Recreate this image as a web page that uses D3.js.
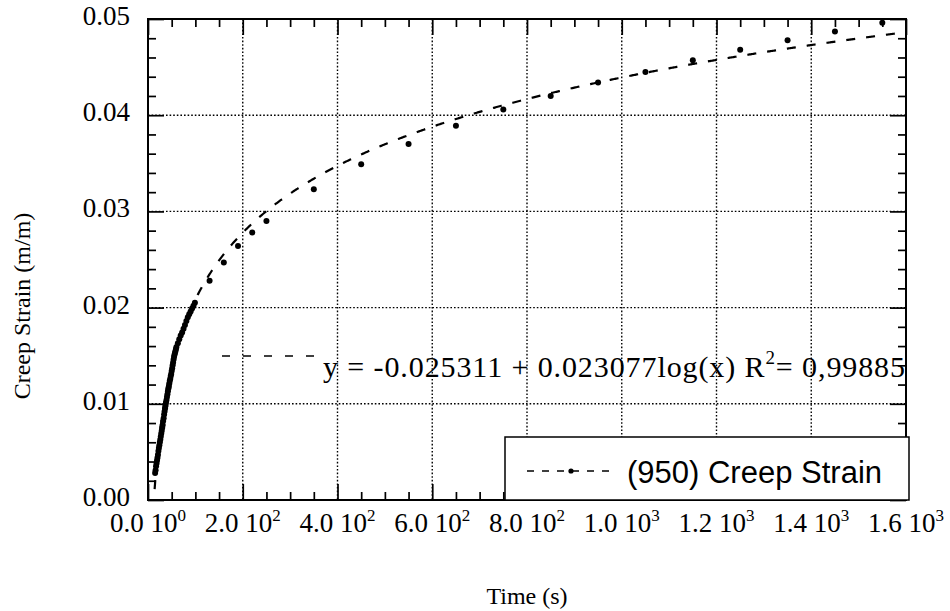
<!DOCTYPE html>
<html>
<head>
<meta charset="utf-8">
<script src="https://cdn.jsdelivr.net/npm/d3@7"></script>
<style>
  body { margin: 0; background: #fff; }
  svg { display: block; }
</style>
</head>
<body>
<svg id="chart" width="950" height="611"></svg>
<script>
// Creep test (950): early record sampled densely, later record every 100 s
const earlyTime = [15,16,17,18,19,20,21,22,23,24,25,26,27,28,29,30,31,32,33,34,35,36,37,38,39,40,
  41,42,43,44,45,46,47,48,49,50,51,52,53,54,55,56,57,58,59,60,
  63,66,69,72,75,78,81,84,87,90,93,96,99];
const earlyStrain = [0.0028,0.0031,0.0035,0.0038,0.0041,0.0044,0.0047,0.0051,0.0054,0.0057,0.0060,
  0.0063,0.0066,0.0069,0.0072,0.0075,0.0078,0.0082,0.0085,0.0089,0.0092,0.0095,0.0098,0.0101,0.0104,
  0.0107,0.0110,0.0113,0.0116,0.0118,0.0121,0.0124,0.0126,0.0129,0.0131,0.0134,0.0137,0.0140,0.0143,
  0.0146,0.0149,0.0151,0.0153,0.0155,0.0157,0.0159,
  0.0163,0.0167,0.0171,0.0174,0.0178,0.0182,0.0186,0.0190,0.0193,0.0196,0.0199,0.0202,0.0205];
const lateTime = [130,160,190,220,250,350,450,550,650,750,850,950,1050,1150,1250,1350,1450,1550];
const lateStrain = [0.0228,0.0247,0.0264,0.0278,0.0290,0.0323,0.0349,0.0370,0.0389,0.0406,
  0.0420,0.0434,0.0445,0.0457,0.0468,0.0478,0.0487,0.0496];

// Logarithmic fit y = a + b log10(x)
const fitA = -0.025311;
const fitB = 0.023077;
const fitR2 = "0,99885";
const seriesName = "(950) Creep Strain";

// Axis ticks and labels
const xMajorTicks = [0,200,400,600,800,1000,1200,1400,1600];
const xTickMantissa = ["0.0","2.0","4.0","6.0","8.0","1.0","1.2","1.4","1.6"];
const xTickExponent = ["0","2","2","2","2","3","3","3","3"];
const yMajorTicks = [0,0.01,0.02,0.03,0.04,0.05];
const yTickLabels = ["0.00","0.01","0.02","0.03","0.04","0.05"];
const xTitle = "Time (s)";
const yTitle = "Creep Strain (m/m)";

const serif = "'Liberation Serif','Times New Roman',serif";
const sans = "'Liberation Sans',Arial,sans-serif";

const svg = d3.select("#chart");
const L = 148, R = 906, T = 19, B = 500;
const x = d3.scaleLinear().domain([0, 1600]).range([L, R]);
const y = d3.scaleLinear().domain([0, 0.05]).range([B, T]);

const xMinor = d3.range(0, 1601, 50).filter(v => !xMajorTicks.includes(v));
const yMinor = d3.range(0, 26).map(i => i * 0.002).filter(v => !yMajorTicks.some(m => Math.abs(m - v) < 1e-9));

// dotted grid
const grid = svg.append("g").attr("stroke", "#000").attr("stroke-width", 1.4)
  .attr("stroke-dasharray", "1.6,2");
grid.selectAll("line.gx").data(xMajorTicks.slice(1, -1)).join("line")
  .attr("x1", d => x(d)).attr("x2", d => x(d)).attr("y1", T).attr("y2", B);
grid.selectAll("line.gy").data(yMajorTicks.slice(1, -1)).join("line")
  .attr("x1", L).attr("x2", R).attr("y1", d => y(d)).attr("y2", d => y(d));

// inward ticks on all four sides
function ticks(axis, values, size, transform) {
  const g = svg.append("g").attr("transform", transform)
    .call(axis.tickValues(values).tickSizeInner(-size).tickSizeOuter(0).tickFormat(""));
  g.select(".domain").remove();
  g.selectAll("line").attr("stroke", "#000").attr("stroke-width", 1.7);
}
ticks(d3.axisBottom(x), xMajorTicks, 16, `translate(0,${B})`);
ticks(d3.axisBottom(x), xMinor, 8, `translate(0,${B})`);
ticks(d3.axisTop(x), xMajorTicks, 16, `translate(0,${T})`);
ticks(d3.axisTop(x), xMinor, 8, `translate(0,${T})`);
ticks(d3.axisLeft(y), yMajorTicks, 16, `translate(${L},0)`);
ticks(d3.axisLeft(y), yMinor, 8, `translate(${L},0)`);
ticks(d3.axisRight(y), yMajorTicks, 16, `translate(${R},0)`);
ticks(d3.axisRight(y), yMinor, 8, `translate(${R},0)`);

svg.append("rect").attr("x", L).attr("y", T).attr("width", R - L).attr("height", B - T)
  .attr("fill", "none").attr("stroke", "#000").attr("stroke-width", 2);

// fitted curve
const fitTimes = d3.range(14, 1600.5, 2);
const line = d3.line().x(d => x(d)).y(d => y(fitA + fitB * Math.log10(d)));
svg.append("path").datum(fitTimes).attr("d", line)
  .attr("fill", "none").attr("stroke", "#000").attr("stroke-width", 2.2)
  .attr("stroke-dasharray", "9,11");

// measured points
const points = earlyTime.map((t, i) => [t, earlyStrain[i]])
  .concat(lateTime.map((t, i) => [t, lateStrain[i]]));
svg.append("g").selectAll("circle").data(points).join("circle")
  .attr("cx", d => x(d[0])).attr("cy", d => y(d[1])).attr("r", 3).attr("fill", "#000");

// x tick labels: mantissa 10^exponent
const xl = svg.append("g").attr("font-family", serif).attr("font-size", 27).attr("fill", "#000");
xMajorTicks.forEach((v, i) => {
  const t = xl.append("text").attr("x", x(v)).attr("y", 532).attr("text-anchor", "middle");
  t.append("tspan").text(xTickMantissa[i] + " 10");
  t.append("tspan").attr("dy", -11).attr("font-size", 17).text(xTickExponent[i]);
});

// y tick labels
svg.append("g").attr("font-family", serif).attr("font-size", 27).attr("fill", "#000")
  .selectAll("text").data(yMajorTicks).join("text")
  .attr("x", 130).attr("y", d => y(d) + 6).attr("text-anchor", "end")
  .text((d, i) => yTickLabels[i]);

// axis titles
svg.append("text").attr("x", 527).attr("y", 604).attr("text-anchor", "middle")
  .attr("font-family", serif).attr("font-size", 24).text(xTitle);
svg.append("text").attr("transform", "translate(22,306) rotate(-90)")
  .attr("text-anchor", "middle").attr("dominant-baseline", "central")
  .attr("font-family", serif).attr("font-size", 24).text(yTitle);

// fit equation with its line sample
svg.append("line").attr("x1", 222).attr("x2", 316).attr("y1", 356).attr("y2", 356)
  .attr("stroke", "#000").attr("stroke-width", 1.4).attr("stroke-dasharray", "8,13");
const eq = svg.append("text").attr("x", 323).attr("y", 377)
  .attr("font-family", serif).attr("font-size", 30).attr("fill", "#000")
  .attr("textLength", 582).attr("lengthAdjust", "spacing");
eq.append("tspan").text(`y = ${fitA.toFixed(6)} + ${fitB.toFixed(6)}log(x) R`);
eq.append("tspan").attr("dy", -13).attr("font-size", 19).text("2");
eq.append("tspan").attr("dy", 13).text(`= ${fitR2}`);

// legend
svg.append("rect").attr("x", 505).attr("y", 437).attr("width", 404).attr("height", 63)
  .attr("fill", "#fff").attr("stroke", "#000").attr("stroke-width", 1.5);
svg.append("line").attr("x1", 527).attr("x2", 617).attr("y1", 471).attr("y2", 471)
  .attr("stroke", "#000").attr("stroke-width", 1.4).attr("stroke-dasharray", "7,8");
svg.append("circle").attr("cx", 571).attr("cy", 471).attr("r", 2.6).attr("fill", "#000");
svg.append("text").attr("x", 627).attr("y", 483).attr("font-family", sans).attr("font-size", 31)
  .text(seriesName);
</script>
</body>
</html>
